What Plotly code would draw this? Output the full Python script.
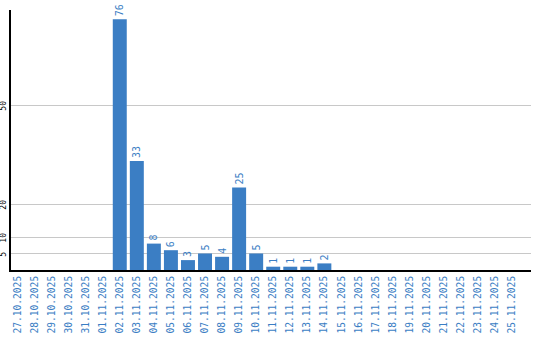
import plotly.graph_objects as go

dates = ["27.10.2025", "28.10.2025", "29.10.2025", "30.10.2025", "31.10.2025",
         "01.11.2025", "02.11.2025", "03.11.2025", "04.11.2025", "05.11.2025",
         "06.11.2025", "07.11.2025", "08.11.2025", "09.11.2025", "10.11.2025",
         "11.11.2025", "12.11.2025", "13.11.2025", "14.11.2025", "15.11.2025",
         "16.11.2025", "17.11.2025", "18.11.2025", "19.11.2025", "20.11.2025",
         "21.11.2025", "22.11.2025", "23.11.2025", "24.11.2025", "25.11.2025"]
counts = [0, 0, 0, 0, 0, 0, 76, 33, 8, 6, 3, 5, 4, 25, 5, 1, 1, 1, 2,
          0, 0, 0, 0, 0, 0, 0, 0, 0, 0, 0]
y_ticks = [5, 10, 20, 50]

BLUE = "#3b7ec4"
MONO = "DejaVu Sans Mono"

labels = [str(v) if v else "" for v in counts]

fig = go.Figure(go.Bar(
    x=dates, y=counts, text=labels, textposition="outside", textangle=-90,
    textfont=dict(family=MONO, size=10, color=BLUE), cliponaxis=False,
    constraintext="none", marker=dict(color=BLUE, line=dict(width=0)),
    width=0.82, hoverinfo="skip",
))

fig.update_layout(
    width=540, height=340,
    margin=dict(l=11, r=9, t=10, b=70),
    paper_bgcolor="white", plot_bgcolor="white",
    showlegend=False,
    xaxis=dict(type="category", range=[-0.38, 30.12], tickangle=-90,
               tickfont=dict(family=MONO, size=9.6, color=BLUE),
               showline=True, linecolor="black", linewidth=2,
               showgrid=False, ticks="", automargin=False),
    yaxis=dict(range=[0, 78.8], tickvals=y_ticks, tickangle=-90,
               tickfont=dict(family=MONO, size=8, color="black"),
               ticklabelshift=2,
               showline=True, linecolor="black", linewidth=2,
               showgrid=True, gridcolor="#c8c8c8", gridwidth=1,
               zeroline=False, ticks="", ticklen=0, automargin=False),
)

fig.write_html("out.html")
